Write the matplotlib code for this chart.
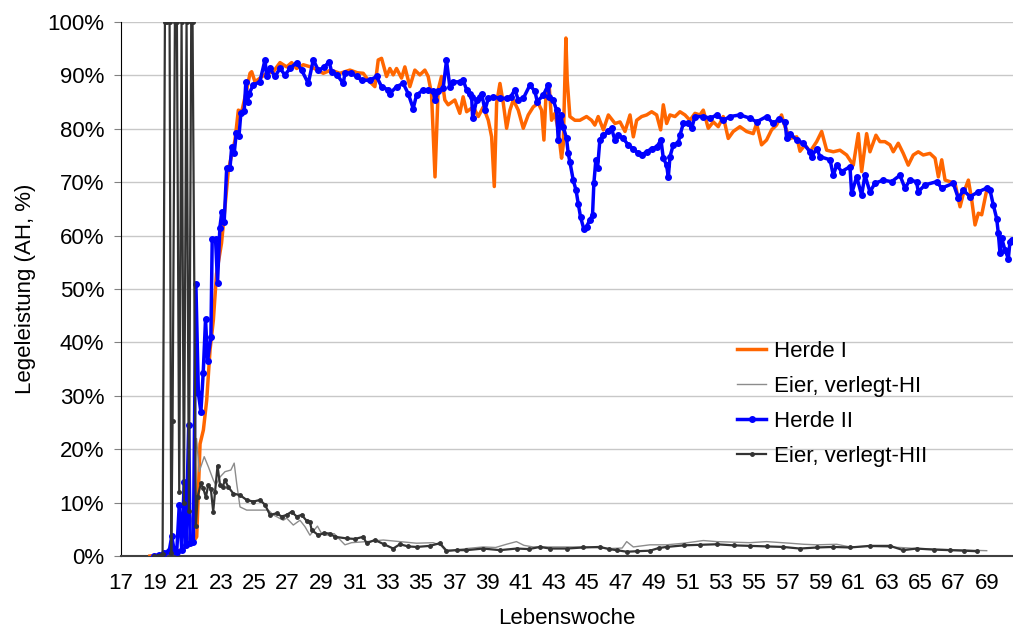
import matplotlib.pyplot as plt
from matplotlib.ticker import PercentFormatter

# Herde I (orange)
w_h1 = [18.74, 19.5, 20.0, 20.5, 21.0, 21.3, 21.55, 21.75, 21.95, 22.15, 22.35, 22.55, 22.74, 23.04, 23.25,
        23.45, 23.85, 24.05, 24.25, 24.55, 24.75, 24.85, 25.05, 25.35, 25.75, 26.15, 26.55, 26.95, 27.25, 27.55,
        27.95, 28.5, 29.15, 29.6, 30.15, 30.75, 31.2, 31.55, 31.85, 32.25, 32.45, 32.65, 32.95, 33.15, 33.35,
        33.55, 33.85, 34.05, 34.35, 34.65, 34.95, 35.25, 35.45, 35.65, 35.86, 36.05, 36.25, 36.45, 36.65, 37.05,
        37.35, 37.55, 37.76, 38.16, 38.46, 38.76, 39.06, 39.26, 39.42, 39.56, 39.76, 39.96, 40.16, 40.36, 40.56,
        40.86, 41.16, 41.46, 41.76, 42.06, 42.26, 42.4, 42.52, 42.72, 42.86, 43.06, 43.26, 43.46, 43.56, 43.72,
        43.8, 43.96, 44.26, 44.56, 44.96, 45.26, 45.46, 45.66, 45.97, 46.27, 46.67, 46.97, 47.27, 47.57, 47.77,
        47.97, 48.27, 48.57, 48.87, 49.17, 49.41, 49.57, 49.77, 49.97, 50.27, 50.57, 50.87, 51.17, 51.47, 51.77,
        51.97, 52.27, 52.57, 52.87, 53.17, 53.47, 53.77, 54.17, 54.57, 54.97, 55.17, 55.47, 55.77, 56.07, 56.37,
        56.67, 56.88, 57.18, 57.58, 57.78, 58.08, 58.38, 58.78, 59.08, 59.38, 59.78, 60.18, 60.58, 60.98, 61.28,
        61.48, 61.78, 61.98, 62.34, 62.58, 62.88, 63.18, 63.38, 63.68, 63.98, 64.28, 64.58, 64.88, 65.18, 65.58,
        65.89, 66.09, 66.29, 66.49, 66.79, 67.09, 67.39, 67.59, 67.89, 68.09, 68.29, 68.49, 68.69, 68.99]
herde1 = [0, 0.3, 0.6, 1.0, 1.8, 2.5, 3.6, 21, 23.6, 29.2, 38.6, 44.2, 52.9, 58.6, 65.4,
          72.3, 77.9, 83.5, 83.2, 87.3, 90.4, 90.7, 88.8, 89.5, 90.4, 90.7, 92.4, 91.6, 92.4, 91.3,
          92, 91.5, 90.4, 91, 90.4, 91, 90.5, 90.4, 89.1, 87.9, 92.9, 93.2, 89.8, 91.3, 90.1,
          91.3, 89.5, 91.6, 87.9, 91, 90.1, 91, 89.8, 86.6, 71, 87.3, 89.8, 85.4, 84.5, 85.4,
          82.9, 86, 83.2, 84.1, 82.3, 84.1, 81.6, 78.5, 69.2, 84.8, 88.5, 84.8, 80.1, 83.5, 85.4,
          83.5, 80.1, 82.6, 84.1, 84.8, 83.5, 77.9, 86, 87.9, 81.6, 82.9, 79.8, 74.5, 77, 97,
          89.1, 82.3, 81.6, 81.6, 82.3, 81.6, 80.7, 82.3, 79.8, 82.6, 81, 81.3, 79.5, 82.6, 78.5,
          81.6, 82.3, 82.6, 83.2, 82.6, 79.8, 84.5, 81, 82.6, 82.3, 83.2, 82.6, 81.6, 82.9, 82.6,
          83.5, 80.1, 81.3, 80.4, 82.3, 78.2, 79.5, 80.4, 79.5, 79.1, 81, 77, 77.9, 79.8, 80.7,
          82.6, 80.4, 78.2, 78.5, 75.8, 77, 75.7, 77.6, 79.5, 76, 75.7, 76, 75.1, 73.2, 79.1,
          72, 79.1, 75.7, 78.8, 77.6, 77.6, 77, 75.7, 77.3, 75.4, 73.2, 75.1, 75.7, 75.1, 75.4,
          74.5, 71, 74.2, 70.4, 70.1, 69.8, 65.4, 67.9, 70.4, 66.7, 62, 64.2, 63.9, 68.5]

# Eier, verlegt-HI (thin grey)
w_v1 = [18.9, 19.5, 20.0, 20.5, 21.0, 21.3, 21.54, 21.7, 22.0, 22.25, 22.55, 22.7, 22.95, 23.25, 23.6,
        23.8, 23.95, 24.15, 24.55, 25.15, 25.55, 25.85, 26.15, 26.75, 26.95, 27.35, 27.75, 28.05, 28.35, 28.8,
        29.05, 29.35, 29.8, 30.45, 30.85, 31.75, 32.75, 33.75, 34.75, 35.75, 36.2, 36.55, 37.2, 37.75, 38.75,
        39.5, 40.15, 40.75, 41.2, 41.75, 42.75, 43.75, 44.76, 45.5, 46.37, 47.1, 47.37, 47.77, 48.77, 49.77,
        50.8, 51.97, 52.77, 53.7, 54.77, 55.77, 57.17, 58.0, 58.78, 59.98, 60.78, 61.8, 62.78, 63.8, 64.78,
        65.8, 66.79, 67.9, 68.99]
verlegt1 = [0, 0.2, 0.5, 1.0, 2.0, 8, 22, 15.8, 18.6, 16.7, 14.2, 13.3, 14.8, 15.8, 16.1,
            17.4, 13.6, 9.2, 8.6, 8.6, 8.6, 8.6, 7.7, 6.7, 7.1, 5.8, 6.7, 5.5, 3.9, 5.6,
            4.2, 3.9, 4.2, 2.1, 2.5, 2.7, 3.0, 2.7, 2.4, 2.5, 2.0, 0.8, 1.2, 1.4, 1.7,
            1.6, 2.2, 2.7, 2.0, 1.7, 1.7, 1.7, 1.7, 1.6, 1.4, 1.5, 2.7, 1.7, 2.1, 2.1,
            2.4, 2.9, 2.7, 2.6, 2.5, 2.7, 2.4, 2.2, 2.1, 2.2, 1.7, 1.8, 1.7, 1.6, 1.4,
            1.3, 1.2, 1.1, 1.0]

# Herde II (blue)
w_h2 = [19.0, 19.3, 19.6, 19.9, 20.05, 20.2, 20.35, 20.5, 20.65, 20.8, 20.9, 21.07, 21.15, 21.35, 21.5,
        21.65, 21.8, 21.94, 22.08, 22.2, 22.4, 22.48, 22.68, 22.8, 22.94, 23.06, 23.2, 23.35, 23.55, 23.65,
        23.8, 23.93, 24.09, 24.2, 24.4, 24.5, 24.6, 24.7, 24.94, 25.34, 25.65, 25.75, 25.95, 26.25, 26.55,
        26.85, 27.15, 27.55, 27.85, 28.25, 28.55, 28.85, 29.2, 29.5, 29.65, 30.0, 30.35, 30.45, 30.8, 31.15,
        31.45, 31.95, 32.35, 32.65, 33.05, 33.15, 33.55, 33.95, 34.25, 34.55, 34.75, 35.15, 35.45, 35.75, 35.86,
        36.05, 36.35, 36.55, 36.75, 36.95, 37.35, 37.55, 37.76, 37.95, 38.06, 38.12, 38.36, 38.56, 38.66, 38.86,
        39.06, 39.36, 39.76, 40.16, 40.4, 40.66, 40.86, 41.16, 41.56, 41.86, 42.0, 42.36, 42.66, 42.72, 42.96,
        43.16, 43.26, 43.4, 43.56, 43.76, 43.86, 43.96, 44.16, 44.33, 44.46, 44.6, 44.8, 44.96, 45.16, 45.32,
        45.4, 45.52, 45.62, 45.76, 45.96, 46.26, 46.46, 46.66, 46.86, 47.16, 47.46, 47.76, 48.06, 48.27, 48.57,
        48.87, 49.17, 49.43, 49.57, 49.77, 49.87, 49.97, 50.17, 50.47, 50.57, 50.77, 51.07, 51.27, 51.47, 51.97,
        52.4, 52.77, 53.17, 53.57, 54.17, 54.77, 55.17, 55.77, 56.17, 56.5, 56.88, 56.98, 57.18, 57.58, 57.97,
        58.38, 58.48, 58.78, 58.98, 59.58, 59.78, 59.98, 60.28, 60.78, 60.88, 61.18, 61.48, 61.68, 61.98, 62.28,
        62.78, 63.28, 63.78, 64.08, 64.38, 64.78, 64.88, 65.28, 65.98, 66.29, 66.98, 67.29, 67.59, 67.99, 68.49,
        68.99, 69.19, 69.39, 69.59, 69.69, 69.79, 69.89, 70.09, 70.29, 70.39, 70.49]
herde2 = [0, 0.2, 0.5, 1.0, 3.7, 1.0, 0.8, 9.5, 1.1, 13.9, 2.0, 24.5, 2.4, 2.7, 51,
          30.5, 27, 34.3, 44.4, 36.5, 41, 59.3, 59.3, 51.2, 61.5, 64.5, 62.6, 72.7, 72.7, 76.6,
          75.4, 79.3, 78.7, 82.9, 83.3, 88.8, 85.1, 86.6, 88.2, 88.8, 92.9, 89.8, 91.3, 89.8, 91.3,
          90.1, 91.3, 92.4, 91, 88.5, 92.9, 91, 91.5, 92.6, 90.7, 90, 88.5, 90.4, 90.5, 89.8,
          89.1, 89.1, 89.8, 87.9, 87.3, 86.6, 87.9, 88.5, 86.6, 83.8, 86.3, 87.3, 87.2, 87, 85.4,
          87, 87.6, 92.8, 87.9, 88.8, 88.8, 89.1, 87.3, 86.5, 86, 82, 85.4, 86, 86.6, 83.5,
          85.7, 86, 85.7, 85.7, 86, 87.3, 85.4, 85.7, 88.2, 87, 85.1, 86.3, 88.2, 86, 85.4,
          83.5, 77.9, 82.6, 80.4, 78.2, 75.4, 73.8, 70.4, 68.5, 66, 63.5, 61.2, 61.7, 62.9, 63.9,
          69.8, 74.2, 72.6, 77.9, 78.8, 79.5, 80.1, 77.9, 78.8, 78.2, 77, 76.3, 75.4, 75.1, 75.7,
          76.3, 76.6, 77.9, 74.5, 73.2, 70.9, 74.8, 77, 77.3, 78.8, 81, 81, 80.1, 82.3, 82.3,
          82.0, 82.6, 81.6, 82.3, 82.6, 82, 81.3, 82.3, 81, 81.8, 81.3, 78.2, 79.1, 77.9, 77.3,
          75.7, 74.8, 76.3, 74.8, 74.2, 71.3, 73.2, 72, 72.9, 67.9, 71, 67.6, 71.3, 68.2, 69.8,
          70.4, 70.1, 71.3, 68.9, 70.4, 70.1, 68.2, 69.5, 70.1, 68.9, 69.8, 67, 68.5, 67.3, 68.2,
          68.9, 68.5, 65.7, 63.2, 60.4, 56.7, 59.5, 57.3, 55.7, 58.9, 59.2]

# Eier, verlegt-HII (dark grey, small markers)
w_v2 = [19.0, 19.2, 19.4, 19.5, 19.64, 19.78, 19.92, 20.02, 20.1, 20.24, 20.36, 20.5, 20.64, 20.78, 20.94,
        21.08, 21.22, 21.3, 21.5, 21.6, 21.8, 21.94, 22.1, 22.24, 22.4, 22.54, 22.65, 22.8, 22.95, 23.1,
        23.25, 23.45, 23.75, 24.15, 24.55, 24.95, 25.35, 25.65, 25.95, 26.35, 26.65, 26.95, 27.25, 27.55, 27.85,
        28.15, 28.35, 28.45, 28.85, 29.2, 29.55, 29.85, 30.55, 31.05, 31.55, 31.75, 32.25, 32.8, 33.35, 33.75,
        34.25, 34.75, 35.55, 36.15, 36.55, 37.2, 37.75, 38.75, 39.76, 40.76, 41.5, 42.16, 42.77, 43.76, 44.76,
        45.77, 46.3, 46.77, 47.37, 48.0, 48.77, 49.3, 49.77, 50.8, 51.77, 52.77, 53.8, 54.77, 55.8, 56.77,
        57.77, 58.8, 59.78, 60.78, 61.98, 63.18, 63.98, 64.78, 65.8, 66.79, 67.6, 68.39]
verlegt2 = [0, 0, 0.2, 0.3, 100, 100, 100, 0.5, 25.3, 100, 100, 11.9, 100, 9.9, 100,
            8.4, 100, 100, 5.6, 11, 13.6, 12.7, 11, 13.3, 12.5, 8.3, 12, 16.9, 13.3, 12.9,
            14.2, 12.9, 11.7, 11.4, 10.5, 10.2, 10.5, 9.6, 7.7, 8.0, 7.4, 7.7, 8.3, 7.4, 7.7,
            6.6, 6.4, 4.9, 3.9, 4.3, 4.2, 3.6, 3.3, 3.2, 3.6, 2.4, 3.0, 2.2, 1.4, 2.2,
            1.8, 1.7, 1.9, 2.4, 1.0, 1.1, 1.1, 1.4, 1.1, 1.4, 1.3, 1.7, 1.4, 1.4, 1.6,
            1.7, 1.3, 1.1, 0.8, 0.9, 1.0, 1.5, 1.7, 2.0, 2.1, 2.2, 2.0, 1.9, 1.8, 1.7,
            1.4, 1.6, 1.7, 1.6, 1.9, 1.9, 1.1, 1.4, 1.2, 1.1, 1.0, 0.9]

week_ticks = list(range(17, 70, 2))

plt.rcParams['font.family'] = ['Liberation Sans', 'DejaVu Sans']

fig = plt.figure(figsize=(10.13, 6.33), dpi=100)
ax = fig.add_axes([0.1194, 0.1216, 0.8806, 0.8436])

ax.plot(w_h1, herde1, color='#ff6600', linewidth=2.5, label='Herde I', zorder=3)
ax.plot(w_v1, verlegt1, color='#8c8c8c', linewidth=1.0, label='Eier, verlegt-HI', zorder=3)
ax.plot(w_h2, herde2, color='#0000ff', linewidth=2.5, marker='o', markersize=4,
        label='Herde II', zorder=4)
ax.plot(w_v2, verlegt2, color='#333333', linewidth=1.6, marker='o', markersize=2.5,
        label='Eier, verlegt-HII', zorder=5)

ax.set_xlim(17, 70.57)
ax.set_ylim(0, 100)
ax.set_xticks(week_ticks)
ax.set_yticks(range(0, 101, 10))
ax.yaxis.set_major_formatter(PercentFormatter(decimals=0))
ax.grid(axis='y', color='#c8c8c8', linewidth=1.0)
ax.set_axisbelow(True)

ax.spines['top'].set_visible(False)
ax.spines['right'].set_visible(False)
ax.spines['left'].set_color('black')
ax.spines['bottom'].set_color('#404040')
ax.spines['bottom'].set_linewidth(1.5)

ax.tick_params(axis='y', labelsize=16, length=5, pad=7, color='#808080')
ax.tick_params(axis='x', labelsize=16, length=0, pad=12)

ax.set_xlabel('Lebenswoche', fontsize=16, labelpad=10)
ax.set_ylabel('Legeleistung (AH, %)', fontsize=16, labelpad=8)

ax.legend(loc='upper left', bbox_to_anchor=(0.728, 0.461), bbox_transform=fig.transFigure,
          frameon=False, fontsize=16, handlelength=1.3, handletextpad=0.35,
          labelspacing=0.62, borderaxespad=0, borderpad=0)

plt.savefig('out.png', dpi=100)
